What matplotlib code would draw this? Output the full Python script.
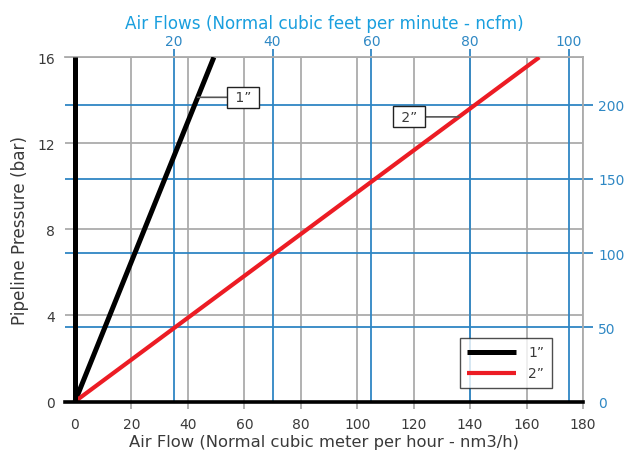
import matplotlib
matplotlib.use("Agg")
import matplotlib.pyplot as plt
import numpy as np

# ---- data ----
pressure_bar = [0, 16]
flow_1in = [0, 49.2]      # nm3/h
flow_2in = [0, 164.5]     # nm3/h
series_labels = ['1\u201d', '2\u201d']
x_ticks = [0, 20, 40, 60, 80, 100, 120, 140, 160, 180]
y_ticks = [0, 4, 8, 12, 16]
ncfm_ticks = [20, 40, 60, 80, 100]
psi_ticks = [0, 50, 100, 150, 200]
NCFM_TO_NM3H = 1.75
PSI_TO_BAR = 1 / 14.5

GRAY = '#ababab'
BLUE = '#2f86c4'
BLUE_TXT = '#2f88c4'
TITLE_BLUE = '#1a9fde'
TXT = '#3a3a3a'
RED = '#ec1c24'

fig = plt.figure(figsize=(6.32, 4.56), dpi=100)
ax = fig.add_axes([65 / 632, 1 - 402.5 / 456, 518 / 632, 344.2 / 456])
ax.set_xlim(-3.54, 180)
ax.set_ylim(0, 16)

# gray grid
ax.set_xticks(x_ticks)
ax.set_yticks(y_ticks)
ax.set_xticklabels([str(v) for v in x_ticks], fontsize=10, color=TXT)
ax.set_yticklabels([str(v) for v in y_ticks], fontsize=10, color=TXT)
for v in x_ticks[1:]:
    ax.axvline(v, color=GRAY, lw=1.3, zorder=1)
for v in y_ticks[1:]:
    ax.axhline(v, color=GRAY, lw=1.3, zorder=1)
ax.tick_params(axis='x', length=5, width=1.3, color=GRAY, pad=6)
ax.tick_params(axis='y', length=0, pad=7)
ax.xaxis.get_major_ticks()[0].tick1line.set_visible(False)

# blue grid
for v in ncfm_ticks:
    ax.axvline(v * NCFM_TO_NM3H, color=BLUE, lw=1.3, zorder=1.5)
for v in psi_ticks[1:]:
    ax.axhline(v * PSI_TO_BAR, color=BLUE, lw=1.3, zorder=1.5)

ax.spines['left'].set_visible(False)
ax.spines['top'].set_color(GRAY)
ax.spines['top'].set_linewidth(1.3)
ax.spines['right'].set_color(GRAY)
ax.spines['right'].set_linewidth(1.3)
ax.spines['bottom'].set_color('black')
ax.spines['bottom'].set_linewidth(2.6)
ax.spines['bottom'].set_zorder(5)

# thick vertical axis line at x=0
ax.plot([0, 0], [y_ticks[0], y_ticks[-1]], color='black', lw=3.6, zorder=5,
        solid_capstyle='butt')

# series
l1, = ax.plot(flow_1in, pressure_bar, color='black', lw=3.6, zorder=4,
              solid_capstyle='butt', label=series_labels[0])
l2, = ax.plot(flow_2in, pressure_bar, color=RED, lw=3.0, zorder=4,
              solid_capstyle='butt', label=series_labels[1])

# callouts
def callout(flows, p_at, text_xy, label):
    xline = np.interp(p_at, pressure_bar, flows)
    ax.annotate(label, xy=(xline, p_at), xytext=text_xy, textcoords='data',
                ha='center', va='center', fontsize=10, color=TXT,
                bbox=dict(boxstyle='square,pad=0.25', fc='white', ec='#222222', lw=1.0),
                arrowprops=dict(arrowstyle='-', color='#555555', lw=1.2,
                                shrinkA=0, shrinkB=0), zorder=6)

callout(flow_1in, 14.14, (59.6, 14.14), ' ' + series_labels[0] + ' ')
callout(flow_2in, 13.23, (118.3, 13.23), ' ' + series_labels[1] + ' ')

# legend
leg = ax.legend(handles=[l1, l2], loc='lower right', bbox_to_anchor=(0.94, 0.039),
                fontsize=10, frameon=True, fancybox=False, handlelength=3.5,
                handletextpad=0.9, labelspacing=0.5, borderpad=0.55,
                borderaxespad=0)
leg.get_frame().set_edgecolor('#222222')
leg.get_frame().set_linewidth(1.0)
for t in leg.get_texts():
    t.set_color(TXT)
leg.set_zorder(7)

ax.set_xlabel('Air Flow (Normal cubic meter per hour - nm3/h)', fontsize=11.8,
              color=TXT, labelpad=2)
ax.set_ylabel('Pipeline Pressure (bar)', fontsize=12.1, color=TXT, labelpad=6)

# secondary axes
top = ax.secondary_xaxis('top', functions=(lambda x: x / NCFM_TO_NM3H,
                                           lambda x: x * NCFM_TO_NM3H))
top.set_xticks(ncfm_ticks)
top.set_xticklabels([str(v) for v in ncfm_ticks], fontsize=10, color=BLUE_TXT)
top.tick_params(length=6, width=1.3, color=BLUE, pad=1)
top.spines['top'].set_visible(False)
top.set_xlabel('Air Flows (Normal cubic feet per minute - ncfm)', fontsize=12.1,
               color=TITLE_BLUE, labelpad=4)

right = ax.secondary_yaxis('right', functions=(lambda y: y / PSI_TO_BAR,
                                               lambda y: y * PSI_TO_BAR))
right.set_yticks(psi_ticks)
right.set_yticklabels([str(v) for v in psi_ticks], fontsize=10, color=BLUE_TXT)
right.tick_params(length=7, width=1.3, color=BLUE, pad=4)
right.spines['right'].set_visible(False)
right.yaxis.get_major_ticks()[0].tick2line.set_visible(False)

fig.savefig('out.png', dpi=100)
